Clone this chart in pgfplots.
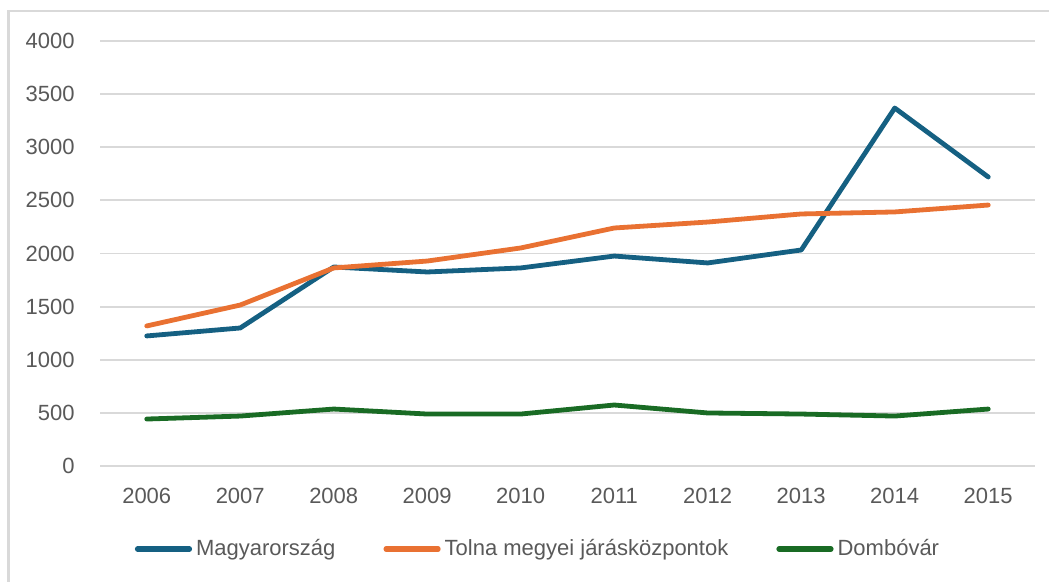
\documentclass[border=0pt]{standalone}
\usepackage{pgfplots}
\pgfplotsset{compat=1.18}
\usepackage{fontspec}
\setmainfont{Liberation Sans}
\definecolor{cblue}{HTML}{156082}
\definecolor{corange}{HTML}{E97132}
\definecolor{cgreen}{HTML}{196B24}
\definecolor{gridc}{HTML}{D9D9D9}
\definecolor{txt}{HTML}{595959}
\begin{document}
\begin{tikzpicture}
\useasboundingbox (0,0) rectangle (524.5pt,291pt);
\draw[gridc, line width=1.2pt] (4.25pt,0) -- (4.25pt,285.5pt) -- (524.5pt,285.5pt);
\begin{axis}[
  at={(50pt,58pt)}, anchor=south west,
  scale only axis, width=467.5pt, height=212.5pt,
  xmin=2005.5, xmax=2015.5, ymin=0, ymax=4000,
  xtick={2006,...,2015}, ytick={0,500,...,4000},
  xticklabel style={/pgf/number format/1000 sep={}},
  yticklabel style={/pgf/number format/1000 sep={}},
  /pgf/number format/assume math mode=true,
  tick label style={font=\fontsize{11}{13}\selectfont, text=txt},
  yticklabel style={anchor=east, inner sep=0pt, xshift=-12.5pt},
  xticklabel style={anchor=north, inner sep=0pt, yshift=-11pt},
  major tick length=0pt,
  axis line style={draw=none},
  xmajorgrids=false, ymajorgrids=true,
  major grid style={draw=gridc, line width=0.9pt},
  every axis plot/.append style={line width=2.4pt, line join=round, line cap=round},
  legend columns=-1,
  legend style={at={(0.4695,-0.1953)}, anchor=center, draw=none, fill=none,
    font=\fontsize{11}{13}\selectfont, text=txt, inner sep=0pt,
    /tikz/every even column/.append style={column sep=22pt}},
  legend cell align=left,
  legend image code/.code={\draw[#1, line width=2.6pt, line cap=round] (0pt,0pt) -- (26pt,0pt);},
]
\addplot[cblue] coordinates {(2006,1224) (2007,1299) (2008,1873) (2009,1826) (2010,1864) (2011,1976) (2012,1911) (2013,2033) (2014,3369) (2015,2720)};
\addlegendentry{Magyarország}
\addplot[corange] coordinates {(2006,1318) (2007,1515) (2008,1864) (2009,1929) (2010,2052) (2011,2240) (2012,2296) (2013,2372) (2014,2391) (2015,2456)};
\addlegendentry{Tolna megyei járásközpontok}
\addplot[cgreen] coordinates {(2006,442) (2007,470) (2008,536) (2009,489) (2010,489) (2011,574) (2012,499) (2013,489) (2014,470) (2015,536)};
\addlegendentry{Dombóvár}
\end{axis}
\end{tikzpicture}
\end{document}
